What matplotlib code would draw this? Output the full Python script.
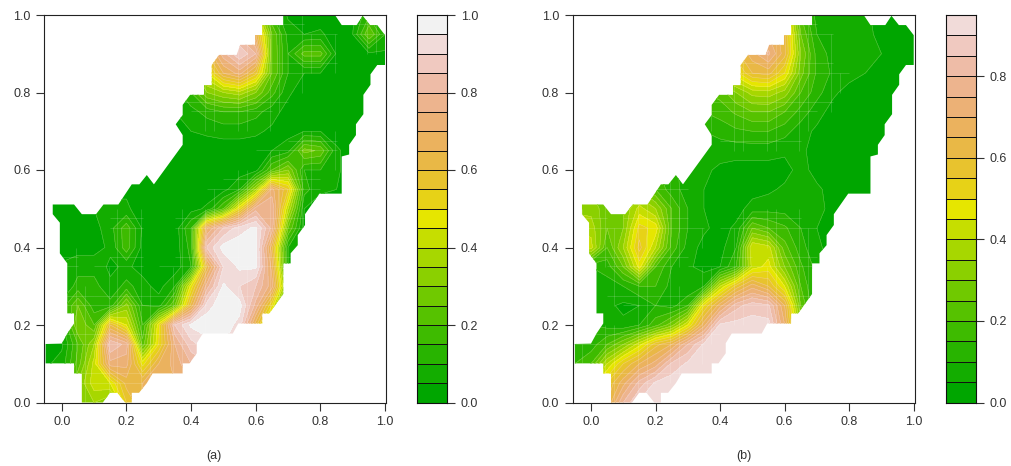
"""Two filled contour panels with terrain colour keys, 1012x466."""
import colorsys
import matplotlib
matplotlib.use('Agg')
import matplotlib.pyplot as plt
from matplotlib.collections import LineCollection
from matplotlib.colors import BoundaryNorm, ListedColormap
from matplotlib.patches import Polygon
import numpy as np

plt.rcParams['font.family'] = ['Liberation Sans', 'DejaVu Sans']

W, H = 1012, 466

grid_x = [-0.05, 0.0, 0.05, 0.10, 0.15, 0.20, 0.25, 0.30, 0.35, 0.40, 0.45,
          0.50, 0.55, 0.60, 0.65, 0.70, 0.75, 0.80, 0.85, 0.90, 0.95, 1.0]
grid_y = [1.0, 0.95, 0.90, 0.85, 0.80, 0.75, 0.70, 0.65, 0.60, 0.55, 0.50,
          0.45, 0.40, 0.35, 0.30, 0.25, 0.20, 0.15, 0.10, 0.05, 0.0]

# rows run top to bottom, y = 1.0 first
values_a = [
    [.02, .02, .02, .02, .02, .02, .02, .02, .05, .10, .30, .60, .75, .45, .15, .04, .02, .02, .02, .04, .14, .08],
    [.02, .02, .02, .02, .02, .02, .02, .02, .05, .15, .45, .70, .78, .65, .25, .08, .05, .06, .02, .05, .25, .10],
    [.02, .02, .02, .02, .02, .02, .02, .02, .08, .30, .60, .78, .90, .80, .25, .10, .22, .22, .04, .02, .04, .04],
    [.02, .02, .02, .02, .02, .02, .02, .02, .08, .25, .45, .65, .72, .57, .25, .10, .05, .05, .02, .02, .02, .02],
    [.02, .02, .02, .02, .02, .02, .02, .02, .08, .15, .30, .35, .38, .30, .17, .06, .02, .02, .02, .02, .02, .02],
    [.02, .02, .02, .02, .02, .02, .02, .02, .05, .08, .12, .15, .15, .12, .07, .03, .02, .02, .02, .02, .02, .02],
    [.02, .02, .02, .02, .02, .02, .02, .02, .04, .05, .06, .07, .07, .06, .04, .03, .05, .05, .02, .02, .02, .02],
    [.02, .02, .02, .02, .02, .02, .02, .02, .02, .02, .02, .02, .02, .02, .05, .08, .27, .24, .06, .02, .02, .02],
    [.02, .02, .02, .02, .02, .03, .03, .02, .02, .02, .02, .02, .02, .03, .20, .30, .10, .10, .06, .02, .02, .02],
    [.03, .03, .03, .04, .03, .04, .03, .02, .02, .02, .02, .03, .10, .35, .72, .55, .12, .06, .05, .02, .02, .02],
    [.03, .03, .03, .05, .07, .06, .02, .02, .02, .03, .06, .20, .50, .78, .80, .40, .05, .02, .02, .02, .02, .02],
    [.02, .02, .02, .03, .08, .18, .04, .02, .02, .15, .70, .85, .93, .96, .78, .25, .04, .02, .02, .02, .02, .02],
    [.02, .02, .03, .03, .06, .18, .03, .02, .02, .12, .86, .97, .98, .97, .62, .10, .03, .02, .02, .02, .02, .02],
    [.04, .06, .08, .08, .04, .06, .03, .02, .02, .10, .62, .90, .96, .96, .68, .10, .03, .02, .02, .02, .02, .02],
    [.04, .05, .12, .12, .06, .12, .07, .03, .10, .47, .78, .96, .90, .85, .72, .25, .03, .02, .02, .02, .02, .02],
    [.04, .12, .25, .12, .12, .32, .10, .08, .25, .62, .93, .98, .97, .78, .50, .05, .02, .02, .02, .02, .02, .02],
    [.04, .08, .30, .20, .60, .45, .15, .48, .85, .96, .98, .98, .93, .62, .30, .03, .02, .02, .02, .02, .02, .02],
    [.03, .04, .20, .35, .85, .78, .22, .50, .75, .88, .93, .95, .95, .60, .30, .03, .02, .02, .02, .02, .02, .02],
    [.04, .07, .22, .42, .73, .72, .48, .65, .72, .80, .85, .90, .90, .60, .30, .03, .02, .02, .02, .02, .02, .02],
    [.10, .15, .30, .43, .45, .62, .65, .68, .70, .75, .80, .85, .85, .60, .30, .03, .02, .02, .02, .02, .02, .02],
    [.10, .20, .35, .35, .30, .55, .65, .68, .70, .75, .80, .85, .85, .60, .30, .03, .02, .02, .02, .02, .02, .02],
]
values_b = [
    [.10, .10, .10, .10, .10, .10, .10, .10, .15, .30, .50, .65, .75, .55, .20, .08, .07, .06, .06, .03, .02, .02],
    [.10, .10, .10, .10, .10, .10, .10, .10, .20, .35, .50, .65, .70, .62, .25, .10, .07, .06, .06, .04, .02, .02],
    [.10, .10, .10, .10, .10, .10, .10, .10, .25, .40, .58, .68, .76, .62, .30, .13, .08, .08, .08, .05, .02, .02],
    [.10, .10, .10, .10, .10, .10, .10, .10, .25, .40, .48, .60, .62, .50, .27, .14, .09, .07, .05, .03, .02, .02],
    [.10, .10, .10, .10, .10, .10, .10, .10, .20, .22, .30, .37, .38, .33, .20, .12, .06, .03, .02, .02, .02, .02],
    [.10, .10, .10, .10, .10, .10, .10, .10, .15, .17, .21, .25, .25, .20, .13, .07, .03, .02, .02, .02, .02, .02],
    [.10, .10, .10, .10, .10, .10, .10, .10, .10, .12, .14, .15, .15, .12, .07, .04, .02, .02, .02, .02, .02, .02],
    [.20, .20, .20, .20, .15, .12, .10, .08, .07, .07, .07, .07, .07, .06, .06, .03, .02, .02, .02, .02, .02, .02],
    [.25, .25, .25, .25, .22, .16, .12, .07, .06, .04, .03, .03, .03, .03, .07, .03, .02, .02, .02, .02, .02, .02],
    [.30, .30, .28, .28, .30, .20, .12, .08, .05, .03, .03, .03, .04, .06, .08, .06, .03, .02, .02, .02, .02, .02],
    [.33, .33, .27, .30, .42, .35, .20, .10, .05, .03, .03, .07, .08, .08, .08, .07, .03, .02, .02, .02, .02, .02],
    [.40, .38, .25, .30, .52, .48, .20, .10, .06, .03, .06, .25, .20, .16, .10, .05, .02, .02, .02, .02, .02, .02],
    [.45, .42, .20, .35, .57, .40, .18, .08, .03, .03, .10, .45, .42, .22, .12, .06, .03, .02, .02, .02, .02, .02],
    [.10, .10, .12, .25, .47, .20, .10, .06, .03, .05, .15, .42, .47, .30, .16, .08, .03, .02, .02, .02, .02, .02],
    [.10, .09, .08, .10, .15, .15, .08, .05, .10, .40, .57, .68, .60, .45, .20, .08, .03, .02, .02, .02, .02, .02],
    [.09, .09, .06, .04, .05, .10, .08, .15, .50, .68, .83, .88, .86, .65, .25, .08, .03, .02, .02, .02, .02, .02],
    [.10, .10, .08, .06, .10, .18, .28, .45, .68, .91, .92, .92, .92, .70, .30, .08, .03, .02, .02, .02, .02, .02],
    [.10, .12, .20, .30, .43, .58, .65, .80, .91, .92, .93, .93, .92, .70, .30, .08, .03, .02, .02, .02, .02, .02],
    [.15, .20, .40, .55, .65, .72, .86, .91, .93, .93, .93, .93, .92, .70, .30, .08, .03, .02, .02, .02, .02, .02],
    [.30, .40, .55, .68, .82, .91, .93, .93, .93, .93, .93, .93, .92, .70, .30, .08, .03, .02, .02, .02, .02, .02],
    [.40, .50, .60, .80, .91, .93, .93, .93, .93, .93, .93, .93, .92, .70, .30, .08, .03, .02, .02, .02, .02, .02],
]

# footprint of the data, same for both panels
outline_x = [-.028, .038, .062, .106, .129, .175, .2165, .240, .263, .285, .374, .374,
             .3525, .374, .374, .397, .44, .44, .464, .464, .4865, .541, .552, .598,
             .598, .62, .62, .685, .685, .845, .866, .912, .931, .954, .976, 1.0,
             1.0, .976, .955, .955, .933, .933, .91, .91, .889, .889, .866, .866,
             .797, .7525, .7525, .73, .73, .708, .708, .685, .685, .642, .62, .62,
             .546, .529, .436, .4175, .4175, .395, .374, .374, .281, .263, .239, .2165,
             .2165, .196, .172, .149, .127, .062, .062, .038, .038, -.05, -.05, 0.0,
             .017, .038, .038, .017, .017, -.006, -.006, -.028]
outline_y = [.511, .511, .486, .486, .511, .511, .563, .563, .587, .563, .665, .690,
             .718, .742, .768, .794, .794, .819, .819, .871, .897, .897, .923, .923,
             .948, .948, .974, .974, 1.0, 1.0, .974, .974, .998, .974, .974, .948,
             .871, .871, .847, .82, .794, .744, .718, .690, .665, .64, .635, .539,
             .539, .486, .458, .432, .406, .385, .359, .359, .28, .23, .23, .204,
             .204, .178, .178, .153, .127, .101, .101, .075, .075, .05, .025, .025,
             0.0, 0.0, .025, .025, 0.0, 0.0, .075, .075, .101, .101, .151, .152,
             .178, .204, .23, .23, .359, .385, .464, .486]

levels_a = [round(i * 0.05, 2) for i in range(21)]
levels_b = [round(i * 0.05, 2) for i in range(20)]
ticks_a = [0.0, 0.2, 0.4, 0.6, 0.8, 1.0]
ticks_b = [0.0, 0.2, 0.4, 0.6, 0.8]
ticks_x = [0.0, 0.2, 0.4, 0.6, 0.8, 1.0]

TEXT = '#333333'


def terrain_colors(n):
    # same ramp as R's terrain.colors
    k = n // 2
    out = []
    for i in range(k):
        t = i / (k - 1)
        out.append(colorsys.hsv_to_rgb((4 - 2 * t) / 12, 1.0, 0.65 + 0.25 * t))
    for i in range(1, n - k + 1):
        t = i / (n - k)
        out.append(colorsys.hsv_to_rgb((2 - 2 * t) / 12, 1.0 - t, 0.9 + 0.05 * t))
    return out


def px_axes(fig, left, right, top, bottom):
    return fig.add_axes([left / W, 1 - bottom / H, (right - left) / W, (bottom - top) / H])


def seams(ax, x, y, z, clip):
    # light cell seams that the filled polygons leave where the surface slopes
    segs = []
    dx, dy = 0.0446, 0.0516
    for i in range(len(y) - 1):
        for j in range(len(x) - 1):
            cell = z[i:i + 2, j:j + 2]
            if cell.max() - cell.min() < 0.06:
                continue
            y0, y1 = y[i + 1], y[i]
            x0, x1 = x[j], x[j + 1]
            xv = x0 + (j % 2 + 1) * dx / 2
            yv = y0 + (i % 2 + 1) * dy / 2
            segs.append([(xv, y0), (xv, y1)])
            segs.append([(x0, yv), (x1, yv)])
    lines = LineCollection(segs, colors='white', linewidths=0.5, alpha=0.22)
    ax.add_collection(lines)
    lines.set_clip_path(clip)


def panel(fig, box, xlim, values, levels, colors, label, label_x):
    ax = px_axes(fig, box[0], box[1], 15, 402.5)
    x = np.array(grid_x)
    y = np.array(grid_y)
    z = np.array(values)
    cmap = ListedColormap(colors)
    norm = BoundaryNorm(levels, cmap.N)
    clip = Polygon(np.column_stack([outline_x, outline_y]), closed=True,
                   transform=ax.transData, fill=False, lw=0)
    ax.add_patch(clip)
    cf = ax.contourf(x, y, z, levels=levels, cmap=cmap, norm=norm)
    cf.set_clip_path(clip)
    cl = ax.contour(x, y, z, levels=levels[1:-1], colors='white',
                    linewidths=0.4, alpha=0.3)
    cl.set_clip_path(clip)
    seams(ax, x, y, z, clip)
    ax.set_xlim(*xlim)
    ax.set_ylim(0, 1)
    ax.set_xticks(ticks_x)
    ax.set_yticks(ticks_x)
    ax.set_xticklabels([f'{t:.1f}' for t in ticks_x])
    ax.set_yticklabels([f'{t:.1f}' for t in ticks_x])
    ax.tick_params(length=5.8, width=0.8, labelsize=9, color=TEXT,
                   labelcolor=TEXT, pad=4)
    for sp in ax.spines.values():
        sp.set_linewidth(0.8)
        sp.set_color('#222222')
    fig.text(label_x / W, 1 - 456 / H, label, fontsize=9, color=TEXT,
             ha='center', va='center')


def key(fig, left, right, levels, colors, ticks):
    cax = px_axes(fig, left, right, 15, 402.5)
    cmap = ListedColormap(colors)
    norm = BoundaryNorm(levels, cmap.N)
    mids = np.array(levels[:-1]) + 0.025
    cax.pcolormesh([0, 1], levels, mids[:, None], cmap=cmap, norm=norm,
                   edgecolors='#111111', linewidth=0.6)
    cax.set_xticks([])
    cax.yaxis.tick_right()
    cax.set_yticks(ticks)
    cax.set_yticklabels([f'{t:.1f}' for t in ticks])
    cax.tick_params(length=5.8, width=0.8, labelsize=9, color=TEXT,
                    labelcolor=TEXT, pad=4)
    for sp in cax.spines.values():
        sp.set_linewidth(0.8)
        sp.set_color('#111111')


fig = plt.figure(figsize=(W / 100, H / 100), dpi=100)
colors_all = terrain_colors(20)
panel(fig, (44, 386), (-0.055, 1.003), values_a, levels_a, colors_all, '(a)', 214)
key(fig, 416.7, 447, levels_a, colors_all, ticks_a)
panel(fig, (572.7, 915), (-0.0567, 1.004), values_b, levels_b, colors_all[:19], '(b)', 744)
key(fig, 946, 976.3, levels_b, colors_all[:19], ticks_b)
fig.savefig('out.png', dpi=100)
